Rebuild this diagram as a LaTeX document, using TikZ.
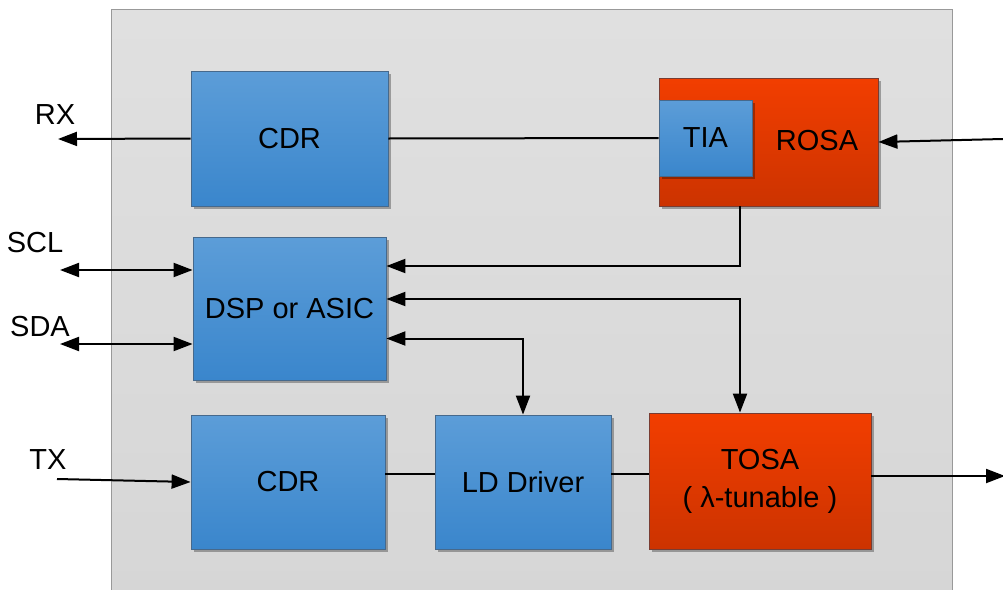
\documentclass[tikz,border=0pt]{standalone}
\usepackage{fontspec}
\setmainfont{Liberation Sans}
\usetikzlibrary{arrows.meta,positioning,shadows}
\definecolor{blktop}{RGB}{92,157,216}
\definecolor{blkbot}{RGB}{58,134,204}
\definecolor{blkline}{RGB}{70,105,140}
\definecolor{osatop}{RGB}{242,62,0}
\definecolor{osabot}{RGB}{204,51,0}
\definecolor{osaline}{RGB}{120,60,50}
\definecolor{paneltop}{RGB}{224,224,224}
\definecolor{panelbot}{RGB}{214,214,214}
\tikzset{
  % common text
  every node/.append style={font=\fontsize{29}{38}\selectfont},
  % blue block
  box/.style={
    draw=blkline,
    line width=0.8pt,
    top color=blktop,
    bottom color=blkbot,
    drop shadow={shadow xshift=3pt, shadow yshift=-3pt, fill=black, opacity=0.3},
    align=center
  },
  % red optical sub-assembly
  osa/.style={box, draw=osaline, top color=osatop, bottom color=osabot},
  % connectors
  arrow/.style={-{Triangle[length=19pt,width=14pt]}, line width=2pt},
  biarrow/.style={{Triangle[length=19pt,width=14pt]}-{Triangle[length=19pt,width=14pt]}, line width=2pt},
  wire/.style={line width=2pt},
}
\begin{document}
\begin{tikzpicture}[x=1pt, y=-1pt]
    \useasboundingbox (0,0) rectangle (1003,589);

    % module housing
    \draw[draw=gray!80, line width=1pt, top color=paneltop, bottom color=panelbot]
        (111,9) rectangle (952,600);

    % receive path
    \node[box, minimum width=197pt, minimum height=135pt] (cdrrx) at (289.5,138.5) {CDR};
    \node[osa, minimum width=219pt, minimum height=128pt] (rosa) at (768.5,142) {};
    \node[box, minimum width=93pt, minimum height=76pt] (tia) at (705.5,138) {TIA};
    \node (rosatext) at (817,141) {ROSA};

    % control
    \node[box, minimum width=193pt, minimum height=143pt] (dsp) at (289.5,308.5) {DSP or ASIC};

    % transmit path
    \node[box, minimum width=194pt, minimum height=134pt] (cdrtx) at (288,482) {CDR};
    \node[box, minimum width=176pt, minimum height=134pt] (ld) at (523,482) {LD Driver};
    \node[osa, minimum width=222pt, minimum height=136pt] (tosa) at (760,481) {TOSA\\( λ-tunable )};

    % outside signals
    \node (rxlabel) at (55,115) {RX};
    \node (scllabel) at (35,243) {SCL};
    \node (sdalabel) at (40,327) {SDA};
    \node (txlabel) at (48,460) {TX};
    \coordinate (rxend) at (58,139);
    \coordinate (sclend) at (60,270);
    \coordinate (sdaend) at (60,344);
    \coordinate (txstart) at (57,479);
    \coordinate (optin) at (1003,139);
    \coordinate (optout) at (1005,476);

    % connectors
    \draw[arrow] (cdrrx.west) -- (rxend);
    \draw[wire] (tia.west) -- (cdrrx.east);
    \draw[arrow] (optin) -- (rosa.east);
    \draw[biarrow] (sclend) -- ([yshift=38.5pt]dsp.west);
    \draw[biarrow] (sdaend) -- ([yshift=-35.5pt]dsp.west);
    \draw[arrow] ([xshift=-28.5pt]rosa.south) |- ([yshift=42.5pt]dsp.east);
    \draw[biarrow] ([yshift=9.5pt]dsp.east) -| ([xshift=-20pt]tosa.north);
    \draw[biarrow] ([yshift=-30pt]dsp.east) -| (ld.north);
    \draw[arrow] (txstart) -- (cdrtx.west);
    \draw[wire] ([yshift=8pt]cdrtx.east) -- ([yshift=8pt]ld.west);
    \draw[wire] ([yshift=8pt]ld.east) -- ([yshift=7pt]tosa.west);
    \draw[arrow] ([yshift=5pt]tosa.east) -- (optout);
\end{tikzpicture}
\end{document}
